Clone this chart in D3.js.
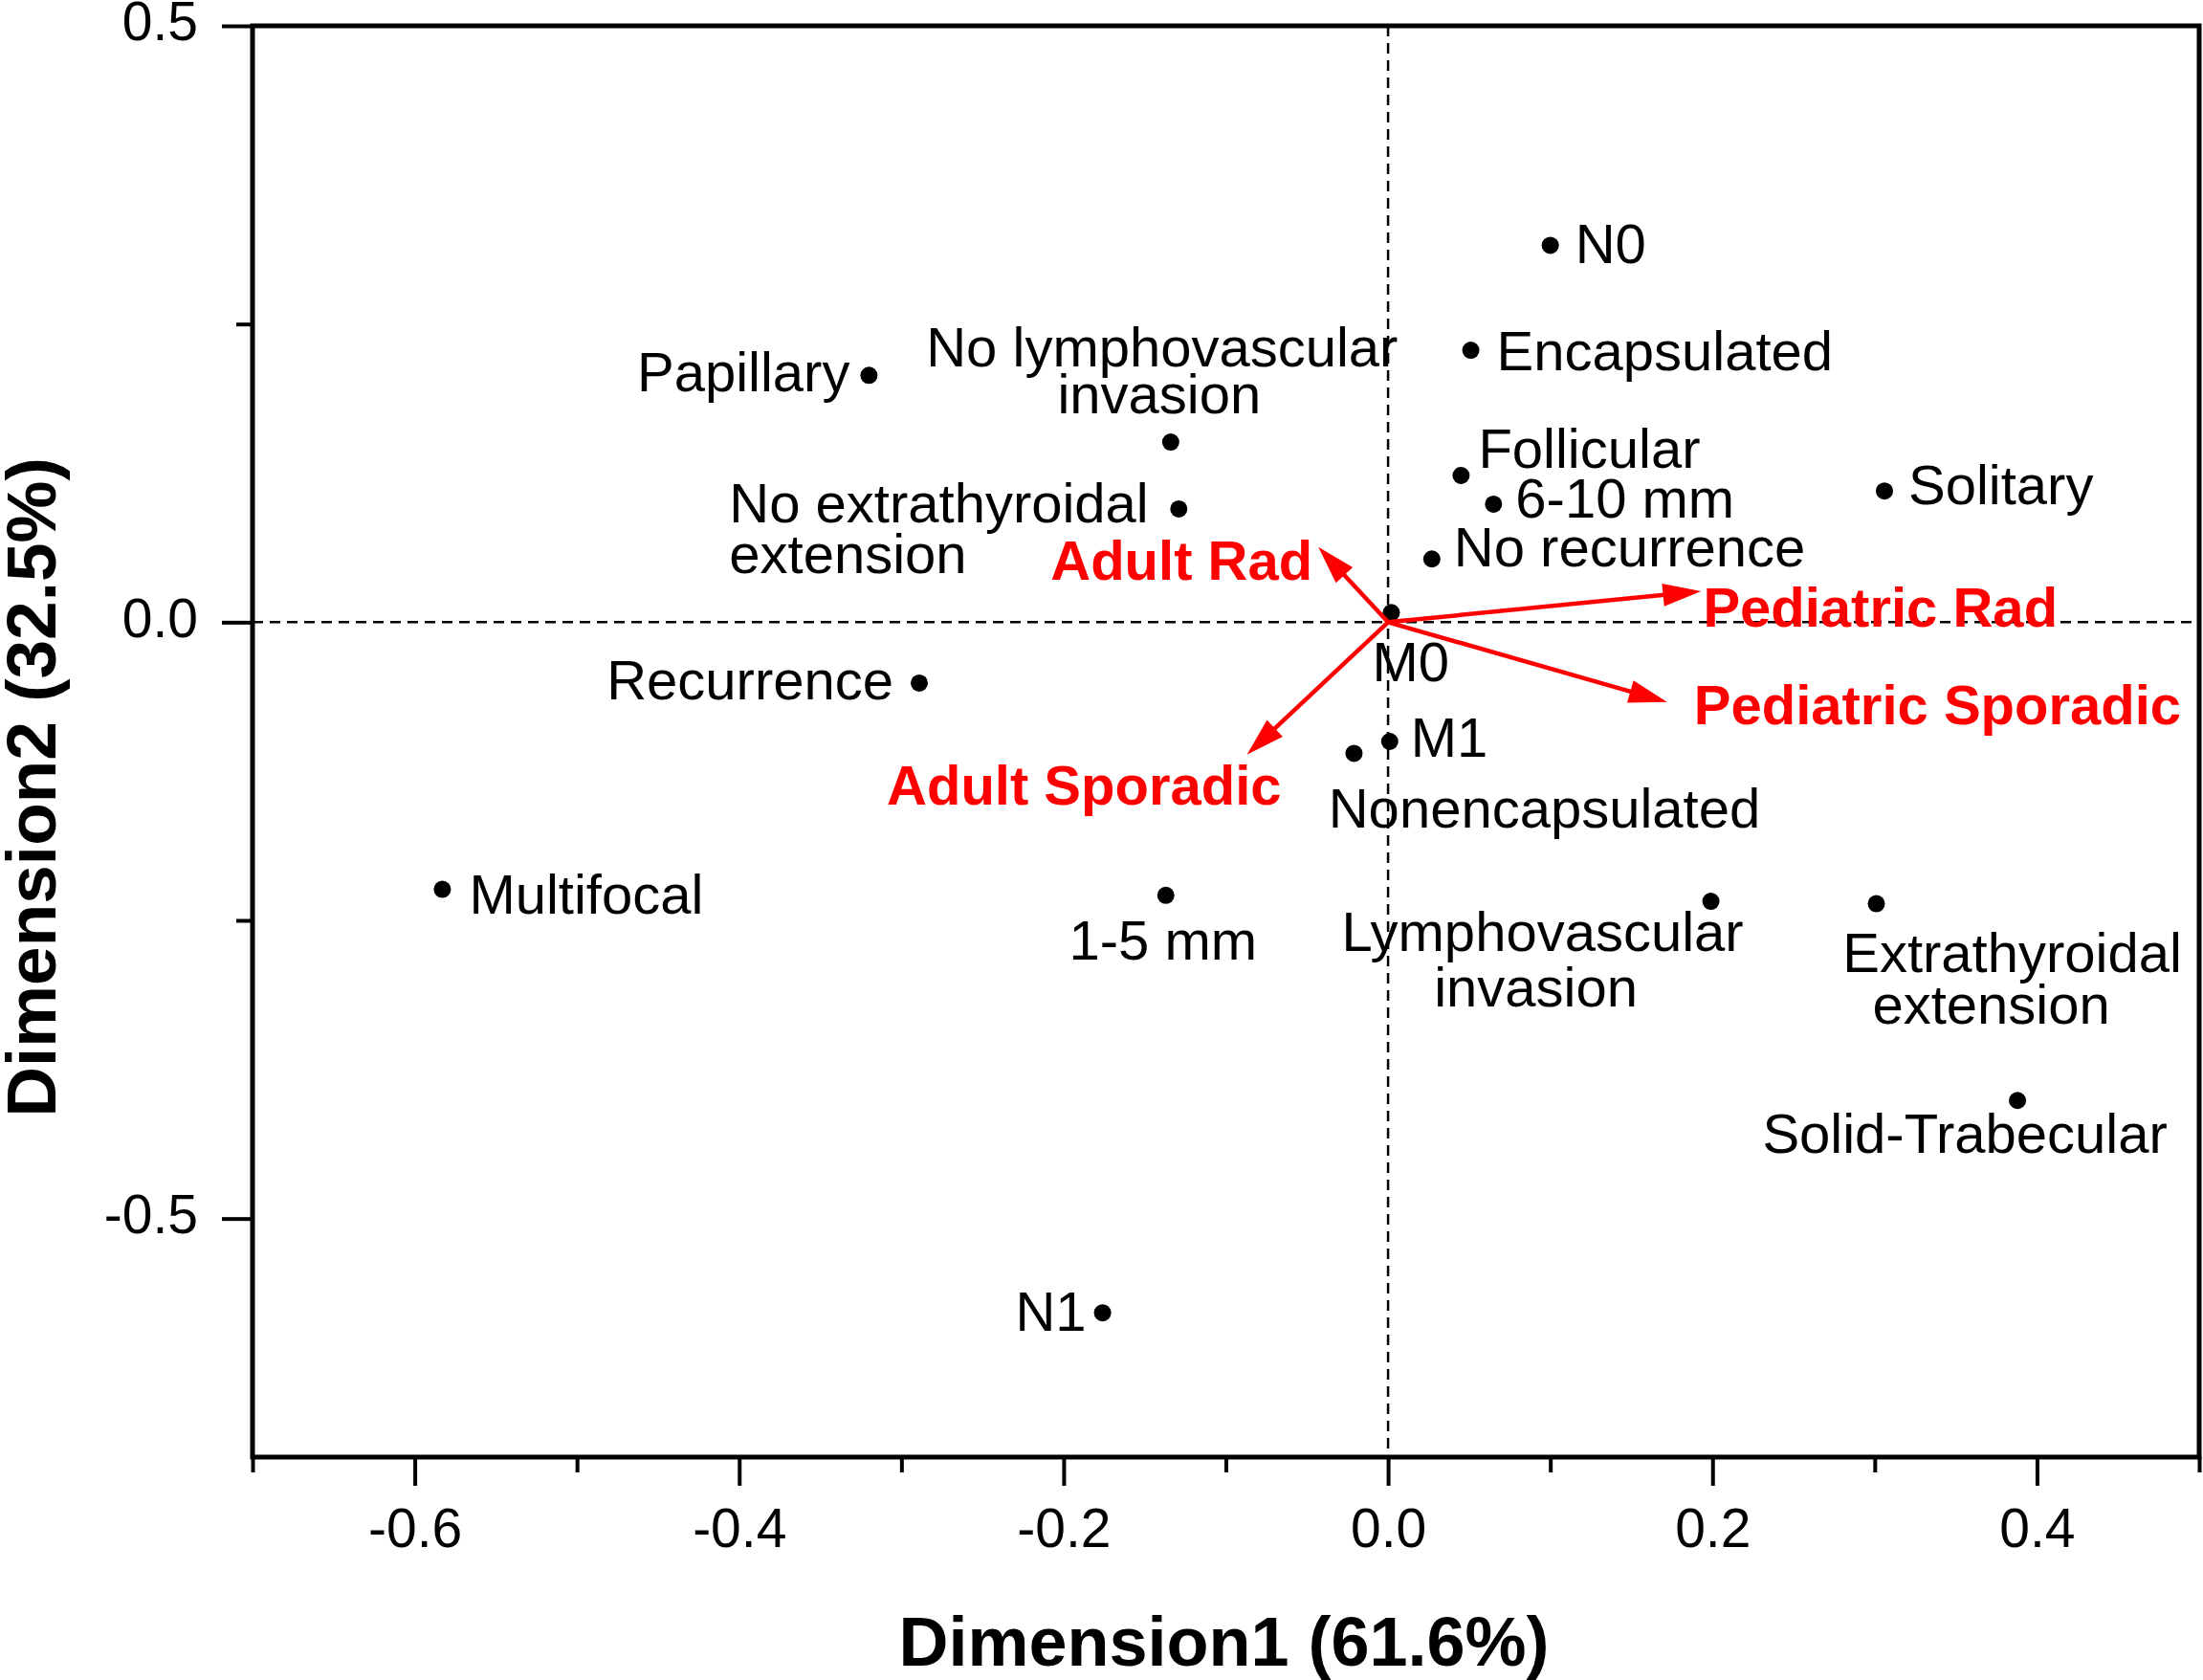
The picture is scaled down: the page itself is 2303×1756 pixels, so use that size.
<!DOCTYPE html>
<html>
<head>
<meta charset="utf-8">
<script src="https://cdn.jsdelivr.net/npm/d3@7"></script>
<style>
  html, body { margin: 0; padding: 0; background: #fff; }
  text { font-family: "Liberation Sans", Arial, sans-serif; }
</style>
</head>
<body>
<div id="chart"></div>
<script>
// category coordinates
const categories = [
  "N0", "Encapsulated", "Papillary", "No lymphovascular\ninvasion",
  "No extrathyroidal\nextension", "Follicular", "6-10 mm", "Solitary",
  "No recurrence", "M0", "Recurrence", "M1", "Nonencapsulated",
  "Multifocal", "1-5 mm", "Lymphovascular\ninvasion",
  "Extrathyroidal\nextension", "Solid-Trabecular", "N1"
]
const dim1 = [0.100, 0.051, -0.320, -0.134, -0.129, 0.045, 0.065, 0.306,
  0.027, 0.002, -0.289, 0.001, -0.021, -0.583, -0.137, 0.199, 0.301, 0.388, -0.176]
const dim2 = [0.316, 0.228, 0.207, 0.151, 0.095, 0.123, 0.099, 0.110,
  0.053, 0.008, -0.051, -0.100, -0.110, -0.224, -0.229, -0.234, -0.236, -0.401, -0.579]

// group vectors
const groups = ["Adult Rad", "Pediatric Rad", "Pediatric Sporadic", "Adult Sporadic"]
const groupDim1 = [-0.043, 0.193, 0.172, -0.087]
const groupDim2 = [0.063, 0.026, -0.067, -0.111]

const xMajorTicks = [-0.6, -0.4, -0.2, 0.0, 0.2, 0.4]
const xMinorTicks = [-0.7, -0.5, -0.3, -0.1, 0.1, 0.3, 0.5]
const yMajorTicks = [0.5, 0.0, -0.5]
const yMinorTicks = [0.25, -0.25]
const xTitle = "Dimension1 (61.6%)"
const yTitle = "Dimension2 (32.5%)"

// label placement in px relative to the point: [anchor, [dx, dy] per line]
const labelPlace = {
  "N0": ["start", [[26, 19]]],
  "Encapsulated": ["start", [[27, 21]]],
  "Papillary": ["end", [[-20, 17]]],
  "No lymphovascular\ninvasion": ["middle", [[-9, -79], [-12, -30]]],
  "No extrathyroidal\nextension": ["start", [[-470, 14], [-470, 67]]],
  "Follicular": ["start", [[18, -8]]],
  "6-10 mm": ["start", [[23, 14]]],
  "Solitary": ["start", [[25, 14]]],
  "No recurrence": ["start", [[23, 8]]],
  "M0": ["start", [[-20, 72]]],
  "Recurrence": ["end", [[-27, 17]]],
  "M1": ["start", [[22, 16]]],
  "Nonencapsulated": ["middle", [[199, 78]]],
  "Multifocal": ["start", [[28, 25]]],
  "1-5 mm": ["middle", [[-3, 67]]],
  "Lymphovascular\ninvasion": ["middle", [[-176, 52], [-183, 110]]],
  "Extrathyroidal\nextension": ["middle", [[142, 71], [120, 125]]],
  "Solid-Trabecular": ["middle", [[-55, 55]]],
  "N1": ["end", [[-17, 19]]]
}
const groupPlace = {
  "Adult Rad": ["end", -6, 34],
  "Pediatric Rad": ["start", 2, 37],
  "Pediatric Sporadic": ["start", 28, 23],
  "Adult Sporadic": ["end", 36, 52]
}

const W = 2303, H = 1756
const plot = {left: 264, right: 2299, top: 27, bottom: 1523}

const svg = d3.select("#chart").append("svg")
    .attr("width", W)
    .attr("height", H)
    .style("display", "block")

const x = d3.scaleLinear().domain([-0.7, 0.5]).range([plot.left, plot.right])
const y = d3.scaleLinear().domain([-0.7, 0.5]).range([plot.bottom, plot.top])

// dashed zero lines
svg.append("line")
    .attr("x1", x(0)).attr("x2", x(0))
    .attr("y1", plot.top).attr("y2", plot.bottom)
    .attr("stroke", "#000").attr("stroke-width", 2.5)
    .attr("stroke-dasharray", "11,7")
svg.append("line")
    .attr("x1", plot.left).attr("x2", plot.right)
    .attr("y1", y(0)).attr("y2", y(0))
    .attr("stroke", "#000").attr("stroke-width", 2.5)
    .attr("stroke-dasharray", "11,7")

// axes
const fmt = d => d.toFixed(1)
const styleAxis = g => {
    g.select(".domain").remove()
    g.selectAll(".tick line").attr("stroke", "#000").attr("stroke-width", 4)
    g.selectAll(".tick text")
        .attr("fill", "#000")
        .style("font-size", "57px")
        .style("font-family", "'Liberation Sans', Arial, sans-serif")
}

svg.append("g")
    .attr("transform", `translate(0, ${plot.bottom})`)
    .call(d3.axisBottom(x).tickValues(xMajorTicks).tickFormat(fmt).tickSize(30).tickPadding(24))
    .call(styleAxis)
svg.append("g")
    .attr("transform", `translate(0, ${plot.bottom})`)
    .call(d3.axisBottom(x).tickValues(xMinorTicks).tickFormat("").tickSize(16))
    .call(styleAxis)

svg.append("g")
    .attr("transform", `translate(${plot.left}, 0)`)
    .call(d3.axisLeft(y).tickValues(yMajorTicks).tickFormat(fmt).tickSize(32).tickPadding(25))
    .call(styleAxis)
    .selectAll(".tick text").attr("dy", "0.26em")
svg.append("g")
    .attr("transform", `translate(${plot.left}, 0)`)
    .call(d3.axisLeft(y).tickValues(yMinorTicks).tickFormat("").tickSize(17))
    .call(styleAxis)

// frame
svg.append("rect")
    .attr("x", plot.left).attr("y", plot.top)
    .attr("width", plot.right - plot.left)
    .attr("height", plot.bottom - plot.top)
    .attr("fill", "none")
    .attr("stroke", "#000")
    .attr("stroke-width", 5)

// axis titles
svg.append("text")
    .attr("x", (plot.left + plot.right) / 2 - 2)
    .attr("y", 1741)
    .attr("text-anchor", "middle")
    .style("font-size", "72px")
    .style("font-weight", "bold")
    .text(xTitle)

svg.append("text")
    .attr("transform", `translate(58, 823) rotate(-90)`)
    .attr("text-anchor", "middle")
    .style("font-size", "73px")
    .style("font-weight", "bold")
    .text(yTitle)

// category points
const pts = categories.map((c, i) => ({name: c, d1: dim1[i], d2: dim2[i]}))

svg.selectAll("circle.pt")
    .data(pts)
    .enter()
    .append("circle")
        .classed("pt", true)
        .attr("cx", d => x(d.d1))
        .attr("cy", d => y(d.d2))
        .attr("r", 9)
        .attr("fill", "#000")

pts.forEach(d => {
    const [anchor, offs] = labelPlace[d.name]
    d.name.split("\n").forEach((line, k) => {
        svg.append("text")
            .attr("x", x(d.d1) + offs[k][0])
            .attr("y", y(d.d2) + offs[k][1])
            .attr("text-anchor", anchor)
            .attr("fill", "#000")
            .style("font-size", "58px")
            .text(line)
    })
})

// group arrows
const red = "#ff0000"
const headLen = 40, headW = 12
const vecs = groups.map((g, i) => ({name: g, d1: groupDim1[i], d2: groupDim2[i]}))

vecs.forEach(v => {
    const x0 = x(0), y0 = y(0)
    const x1 = x(v.d1), y1 = y(v.d2)
    const len = Math.hypot(x1 - x0, y1 - y0)
    const ux = (x1 - x0) / len, uy = (y1 - y0) / len
    const bx = x1 - ux * headLen, by = y1 - uy * headLen
    svg.append("line")
        .attr("x1", x0).attr("y1", y0)
        .attr("x2", bx + ux * 4).attr("y2", by + uy * 4)
        .attr("stroke", red)
        .attr("stroke-width", 4.5)
    svg.append("path")
        .attr("d", `M${x1},${y1} L${bx - uy * headW},${by + ux * headW} L${bx + uy * headW},${by - ux * headW} Z`)
        .attr("fill", red)
    const [anchor, dx, dy] = groupPlace[v.name]
    svg.append("text")
        .attr("x", x1 + dx)
        .attr("y", y1 + dy)
        .attr("text-anchor", anchor)
        .attr("fill", red)
        .style("font-size", "58px")
        .style("font-weight", "bold")
        .text(v.name)
})
</script>
</body>
</html>
